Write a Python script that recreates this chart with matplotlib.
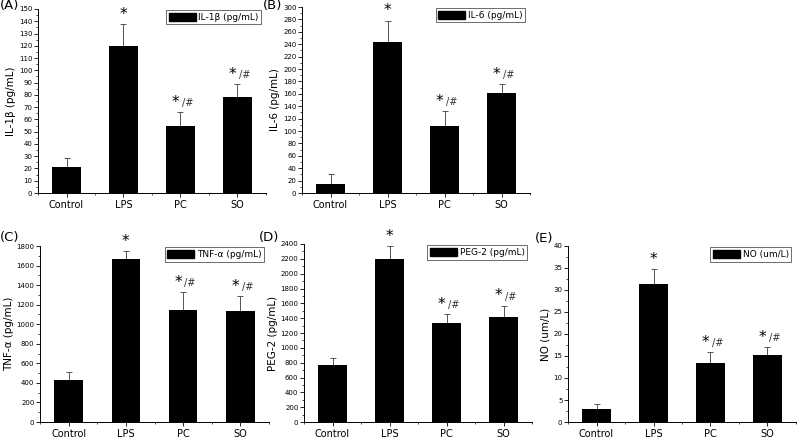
import numpy as np
import matplotlib
matplotlib.use("Agg")
import matplotlib.pyplot as plt
from matplotlib.ticker import MultipleLocator
from matplotlib.patches import Patch

groups = ["Control", "LPS", "PC", "SO"]

il1b = [21, 120, 55, 78.5]
il1b_err = [7.5, 18, 11, 10]
il6 = [14, 244, 108, 161]
il6_err = [16, 34, 24, 14]
tnf = [425, 1665, 1145, 1135]
tnf_err = [90, 80, 185, 155]
peg2 = [775, 2195, 1340, 1420]
peg2_err = [90, 175, 120, 150]
no = [3.0, 31.3, 13.3, 15.3]
no_err = [1.1, 3.5, 2.6, 1.7]

marks = ["", "*", "*/#", "*/#"]

# panel: (label, label pos px, values, errors, ylabel, ymax, major, minor, rect px [left, top, right, bottom])
panels = [
    ("(A)", (10, 6), il1b, il1b_err, "IL-1β (pg/mL)", 150, 10, 5, [38, 9, 266, 193]),
    ("(B)", (273, 6), il6, il6_err, "IL-6 (pg/mL)", 300, 20, 10, [302, 7, 530, 193]),
    ("(C)", (10, 237), tnf, tnf_err, "TNF-α (pg/mL)", 1800, 200, 100, [40, 246, 269, 422]),
    ("(D)", (269, 237), peg2, peg2_err, "PEG-2 (pg/mL)", 2400, 200, 100, [304, 244, 532, 422]),
    ("(E)", (544, 238), no, no_err, "NO (um/L)", 40, 5, 2.5, [568, 246, 796, 422]),
]

W, H = 800, 448
fig = plt.figure(figsize=(8, 4.48), dpi=100)
x = np.arange(1, 5)

for lab, (lx, ly), vals, errs, ylab, ymax, maj, mnr, (l, t, r, b) in panels:
    ax = fig.add_axes([l / W, 1 - b / H, (r - l) / W, (b - t) / H])
    ax.bar(x, vals, width=0.5, color="black", zorder=2)
    ax.errorbar(x, vals, yerr=[np.zeros(4), errs], fmt="none", ecolor="#555555",
                elinewidth=0.7, capsize=2, capthick=0.7, zorder=1)
    ax.set_xlim(0.5, 4.5)
    ax.set_ylim(0, ymax)
    ax.set_xticks(x)
    ax.set_xticklabels(groups, fontsize=7)
    ax.xaxis.set_minor_locator(MultipleLocator(0.5))
    ax.yaxis.set_major_locator(MultipleLocator(maj))
    ax.yaxis.set_minor_locator(MultipleLocator(mnr))
    ax.tick_params(axis="y", labelsize=5, length=3, width=0.6, pad=1)
    ax.tick_params(axis="x", length=3, width=0.6, pad=2)
    ax.tick_params(which="minor", length=1.5, width=0.5)
    for s in ["top", "right"]:
        ax.spines[s].set_visible(False)
    for s in ["left", "bottom"]:
        ax.spines[s].set_linewidth(0.7)
    ax.set_ylabel(ylab, fontsize=7.5, labelpad=2)
    fig.text(lx / W, 1 - ly / H, lab, fontsize=9.5, va="center", ha="center")
    ax.legend(handles=[Patch(color="black")], labels=[ylab], loc="upper right",
              bbox_to_anchor=(1.0, 1.02), fontsize=6.5, fancybox=False, framealpha=1,
              edgecolor="#555555", handlelength=3, handleheight=1, borderpad=0.3,
              handletextpad=0.3).get_frame().set_linewidth(0.6)
    for xi, v, e, m in zip(x, vals, errs, marks):
        top = v + e + ymax * 0.012
        if m == "*":
            ax.text(xi, top, "*", ha="center", va="bottom", fontsize=11)
        elif m:
            ax.text(xi - 0.02, top, "*", ha="right", va="bottom", fontsize=11)
            ax.text(xi + 0.02, top + ymax * 0.01, "/#", ha="left", va="bottom",
                    fontsize=7, color="#333333")

fig.savefig("out.png", dpi=100)
